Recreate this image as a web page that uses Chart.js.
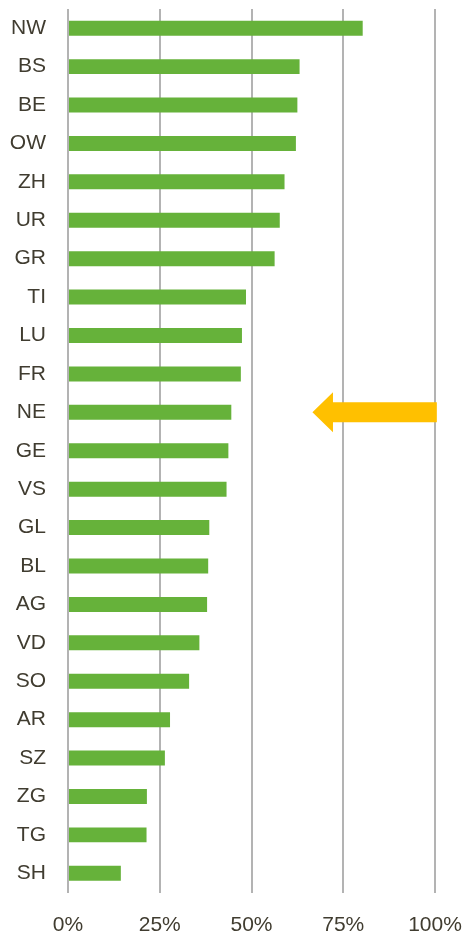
<!DOCTYPE html>
<html>
<head>
<meta charset="utf-8">
<script src="https://cdn.jsdelivr.net/npm/chart.js@4/dist/chart.umd.min.js"></script>
<style>
  html, body { margin: 0; padding: 0; background: #ffffff; }
  #wrap { width: 468px; height: 936px; position: relative; }
</style>
</head>
<body>
<div id="wrap"><canvas id="c"></canvas></div>
<script>
// Data
const categories = ["NW","BS","BE","OW","ZH","UR","GR","TI","LU","FR","NE","GE","VS","GL","BL","AG","VD","SO","AR","SZ","ZG","TG","SH"];
const shares = [80.3, 63.1, 62.5, 62.1, 59.0, 57.7, 56.3, 48.5, 47.4, 47.1, 44.5, 43.7, 43.2, 38.5, 38.2, 37.9, 35.8, 33.0, 27.8, 26.4, 21.5, 21.4, 14.4];
const xTicks = [0, 25, 50, 75, 100];
// Highlight arrow (annotation) pointing at this category, in axis units
const arrowCategory = "NE";
const arrowTip = 66.6;
const arrowHeadBase = 72.2;
const arrowTail = 100.5;

const arrowPlugin = {
  id: 'arrow',
  afterDatasetsDraw(chart) {
    const ctx = chart.ctx;
    const xs = chart.scales.x, ys = chart.scales.y;
    const idx = categories.indexOf(arrowCategory);
    const cy = ys.getPixelForValue(idx);
    const xTip = xs.getPixelForValue(arrowTip);
    const xBase = xs.getPixelForValue(arrowHeadBase);
    const xEnd = xs.getPixelForValue(arrowTail);
    const sh = 10, hh = 20;
    ctx.save();
    ctx.fillStyle = '#FFC000';
    ctx.beginPath();
    ctx.moveTo(xTip, cy);
    ctx.lineTo(xBase, cy - hh);
    ctx.lineTo(xBase, cy - sh);
    ctx.lineTo(xEnd, cy - sh);
    ctx.lineTo(xEnd, cy + sh);
    ctx.lineTo(xBase, cy + sh);
    ctx.lineTo(xBase, cy + hh);
    ctx.closePath();
    ctx.fill();
    ctx.restore();
  }
};

const textColor = '#403c30';
const gridColor = '#b3b3b3';

new Chart(document.getElementById('c'), {
  type: 'bar',
  data: {
    labels: categories,
    datasets: [{
      data: shares,
      backgroundColor: '#66b23a',
      borderWidth: 0,
      barPercentage: 0.39,
      categoryPercentage: 1.0
    }]
  },
  options: {
    indexAxis: 'y',
    responsive: true,
    maintainAspectRatio: false,
    animation: false,
    layout: { padding: { top: 9, right: 33, left: 0, bottom: 0 } },
    plugins: { legend: { display: false }, tooltip: { enabled: false } },
    scales: {
      x: {
        min: 0, max: 100,
        afterBuildTicks(scale) { scale.ticks = xTicks.map(v => ({ value: v })); },
        afterFit(scale) {
          scale.height = 43.5;
          scale.paddingLeft = 0; scale.paddingRight = 0;
          scale.paddingTop = 0; scale.paddingBottom = 0;
        },
        border: { display: false },
        grid: { color: gridColor, lineWidth: 2, drawTicks: false },
        ticks: {
          padding: 20,
          color: textColor,
          font: { family: 'Liberation Sans', size: 21 },
          callback: (v) => v + '%',
          maxRotation: 0
        }
      },
      y: {
        afterFit(scale) {
          scale.width = 68;
          scale.paddingLeft = 0; scale.paddingRight = 0;
          scale.paddingTop = 0; scale.paddingBottom = 0;
        },
        border: { display: false },
        grid: { display: false, drawTicks: false },
        ticks: {
          padding: 22,
          color: textColor,
          font: { family: 'Liberation Sans', size: 21 },
          autoSkip: false
        }
      }
    }
  },
  plugins: [arrowPlugin]
});
</script>
</body>
</html>
